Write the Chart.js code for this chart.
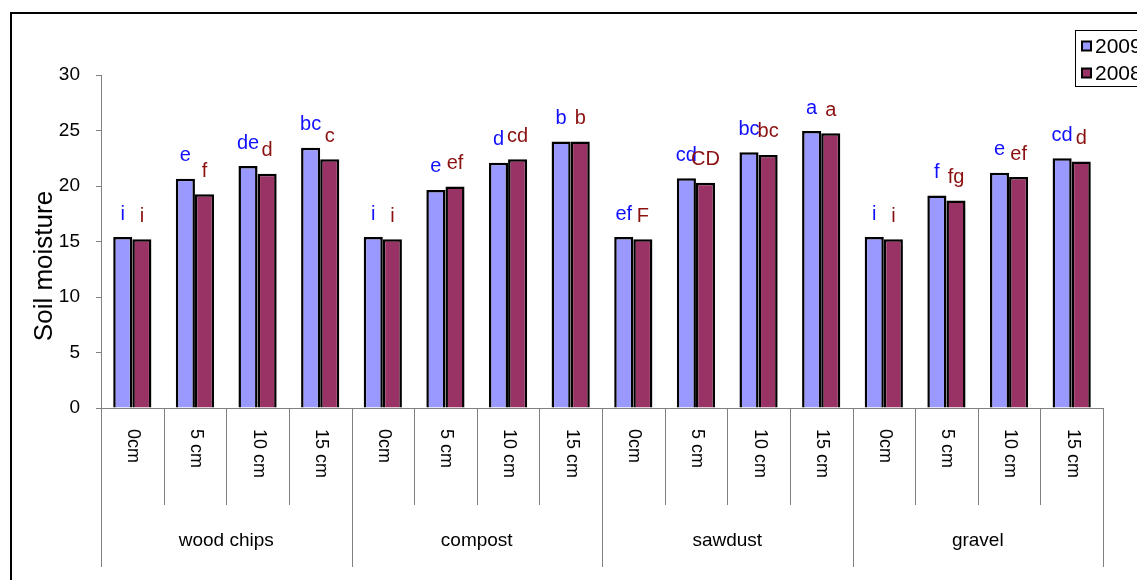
<!DOCTYPE html>
<html>
<head>
<meta charset="utf-8">
<script src="https://cdn.jsdelivr.net/npm/chart.js@4.4.0/dist/chart.umd.min.js"></script>
<style>
  body { margin: 0; background: #fff; }
  canvas { display: block; }
</style>
</head>
<body>
<canvas id="chart" width="1137" height="580"></canvas>
<script>
'use strict';

// Data
const groups = ['wood chips', 'compost', 'sawdust', 'gravel'];
const depths = ['0cm', '5 cm', '10 cm', '15 cm'];
const years = ['2009', '2008'];
const values2009 = [15.4, 20.65, 21.8, 23.45, 15.4, 19.65, 22.1, 24.0, 15.4, 20.7, 23.05, 24.95, 15.4, 19.15, 21.2, 22.5];
const values2008 = [15.2, 19.25, 21.1, 22.4, 15.2, 19.95, 22.4, 24.0, 15.2, 20.3, 22.8, 24.75, 15.2, 18.7, 20.8, 22.2];
const letters2009 = ['i', 'e', 'de', 'bc', 'i', 'e', 'd', 'b', 'ef', 'cd', 'bc', 'a', 'i', 'f', 'e', 'cd'];
const letters2008 = ['i', 'f', 'd', 'c', 'i', 'ef', 'cd', 'b', 'F', 'CD', 'bc', 'a', 'i', 'fg', 'ef', 'd'];
const yTicks = [0, 5, 10, 15, 20, 25, 30];

// Build labels
let labels = [];
groups.forEach((g) => depths.forEach((d) => labels.push(d)));

const FONT = "'Liberation Sans', Arial, sans-serif";
const AXIS_GREY = '#808080';
const barColors = ['#9999ff', '#993366'];
const letterColors = ['#1010ff', '#8b1010'];

// Draws the frame, two-level axis, letters and legend
const decorations = {
    id: 'decorations',
    afterDraw(chart) {
        const ctx = chart.ctx;
        const area = chart.chartArea;
        const xs = chart.scales.x;
        const step = xs.getPixelForValue(1) - xs.getPixelForValue(0);

        ctx.save();

        // Outer frame
        ctx.strokeStyle = '#000';
        ctx.lineWidth = 2;
        ctx.beginPath();
        ctx.moveTo(11, 600);
        ctx.lineTo(11, 13);
        ctx.lineTo(1150, 13);
        ctx.stroke();

        // Category dividers
        ctx.strokeStyle = AXIS_GREY;
        ctx.lineWidth = 1;
        for (let i = 0; i <= labels.length; i++) {
            let x = Math.round(xs.getPixelForValue(0) - step / 2 + i * step) + 0.5;
            let bottom = (i % depths.length == 0) ? 567 : 505;
            ctx.beginPath();
            ctx.moveTo(x, area.bottom);
            ctx.lineTo(x, bottom);
            ctx.stroke();
        }

        // Depth labels, rotated clockwise
        ctx.fillStyle = '#000';
        ctx.font = '18px ' + FONT;
        ctx.textAlign = 'left';
        ctx.textBaseline = 'middle';
        labels.forEach((lab, i) => {
            ctx.save();
            ctx.translate(xs.getPixelForValue(i) + 1, area.bottom + 21);
            ctx.rotate(Math.PI / 2);
            ctx.fillText(lab, 0, 0);
            ctx.restore();
        });

        // Group labels
        ctx.font = '19px ' + FONT;
        ctx.textAlign = 'center';
        groups.forEach((g, gi) => {
            let a = xs.getPixelForValue(gi * depths.length);
            let b = xs.getPixelForValue(gi * depths.length + depths.length - 1);
            ctx.fillText(g, (a + b) / 2, 541);
        });

        // Y title
        ctx.save();
        ctx.translate(45, 266);
        ctx.rotate(-Math.PI / 2);
        ctx.font = '26px ' + FONT;
        ctx.textAlign = 'center';
        ctx.textBaseline = 'middle';
        ctx.fillText('Soil moisture', 0, 0);
        ctx.restore();

        // Significance letters
        ctx.font = '20px ' + FONT;
        ctx.textAlign = 'center';
        ctx.textBaseline = 'middle';
        [letters2009, letters2008].forEach((letters, di) => {
            let meta = chart.getDatasetMeta(di);
            ctx.fillStyle = letterColors[di];
            meta.data.forEach((bar, i) => {
                ctx.fillText(letters[i], bar.x, bar.y - 23);
            });
        });

        // Legend
        ctx.strokeStyle = '#000';
        ctx.lineWidth = 1;
        ctx.strokeRect(1075.5, 30.5, 100, 56);
        ctx.font = '21px ' + FONT;
        ctx.textAlign = 'left';
        years.forEach((yr, i) => {
            let cy = 46 + i * 27;
            ctx.fillStyle = barColors[i];
            ctx.fillRect(1082, cy - 4.5, 9, 9);
            ctx.lineWidth = 2;
            ctx.strokeRect(1082, cy - 4.5, 9, 9);
            ctx.fillStyle = '#000';
            ctx.fillText(yr, 1095, cy + 1);
        });

        ctx.restore();
    }
};

const chart = new Chart(document.getElementById('chart'), {
    type: 'bar',
    data: {
        labels: labels,
        datasets: [{
            label: years[0],
            data: values2009,
            backgroundColor: barColors[0],
            borderColor: '#000',
            borderWidth: 2.5,
            borderSkipped: 'bottom'
        }, {
            label: years[1],
            data: values2008,
            backgroundColor: barColors[1],
            borderColor: '#000',
            borderWidth: 2.5,
            borderSkipped: 'bottom'
        }]
    },
    options: {
        responsive: false,
        animation: false,
        events: [],
        categoryPercentage: 0.61,
        barPercentage: 1.0,
        layout: {
            padding: { left: 10, top: 75, right: 34, bottom: 0 }
        },
        plugins: {
            legend: { display: false },
            tooltip: { enabled: false }
        },
        scales: {
            x: {
                offset: true,
                ticks: { display: false },
                grid: { display: false },
                border: { display: true, color: AXIS_GREY, width: 1 },
                afterFit: (scale) => { scale.height = 172; }
            },
            y: {
                min: 0,
                max: 30,
                afterBuildTicks: (scale) => {
                    scale.ticks = yTicks.map((v) => ({ value: v }));
                },
                ticks: {
                    color: '#000',
                    font: { family: FONT, size: 19 },
                    padding: 16
                },
                grid: {
                    drawOnChartArea: false,
                    drawTicks: true,
                    tickLength: 5,
                    color: AXIS_GREY
                },
                border: { display: true, color: AXIS_GREY, width: 1 },
                afterFit: (scale) => { scale.width = 91; }
            }
        }
    },
    plugins: [decorations]
});
</script>
</body>
</html>
